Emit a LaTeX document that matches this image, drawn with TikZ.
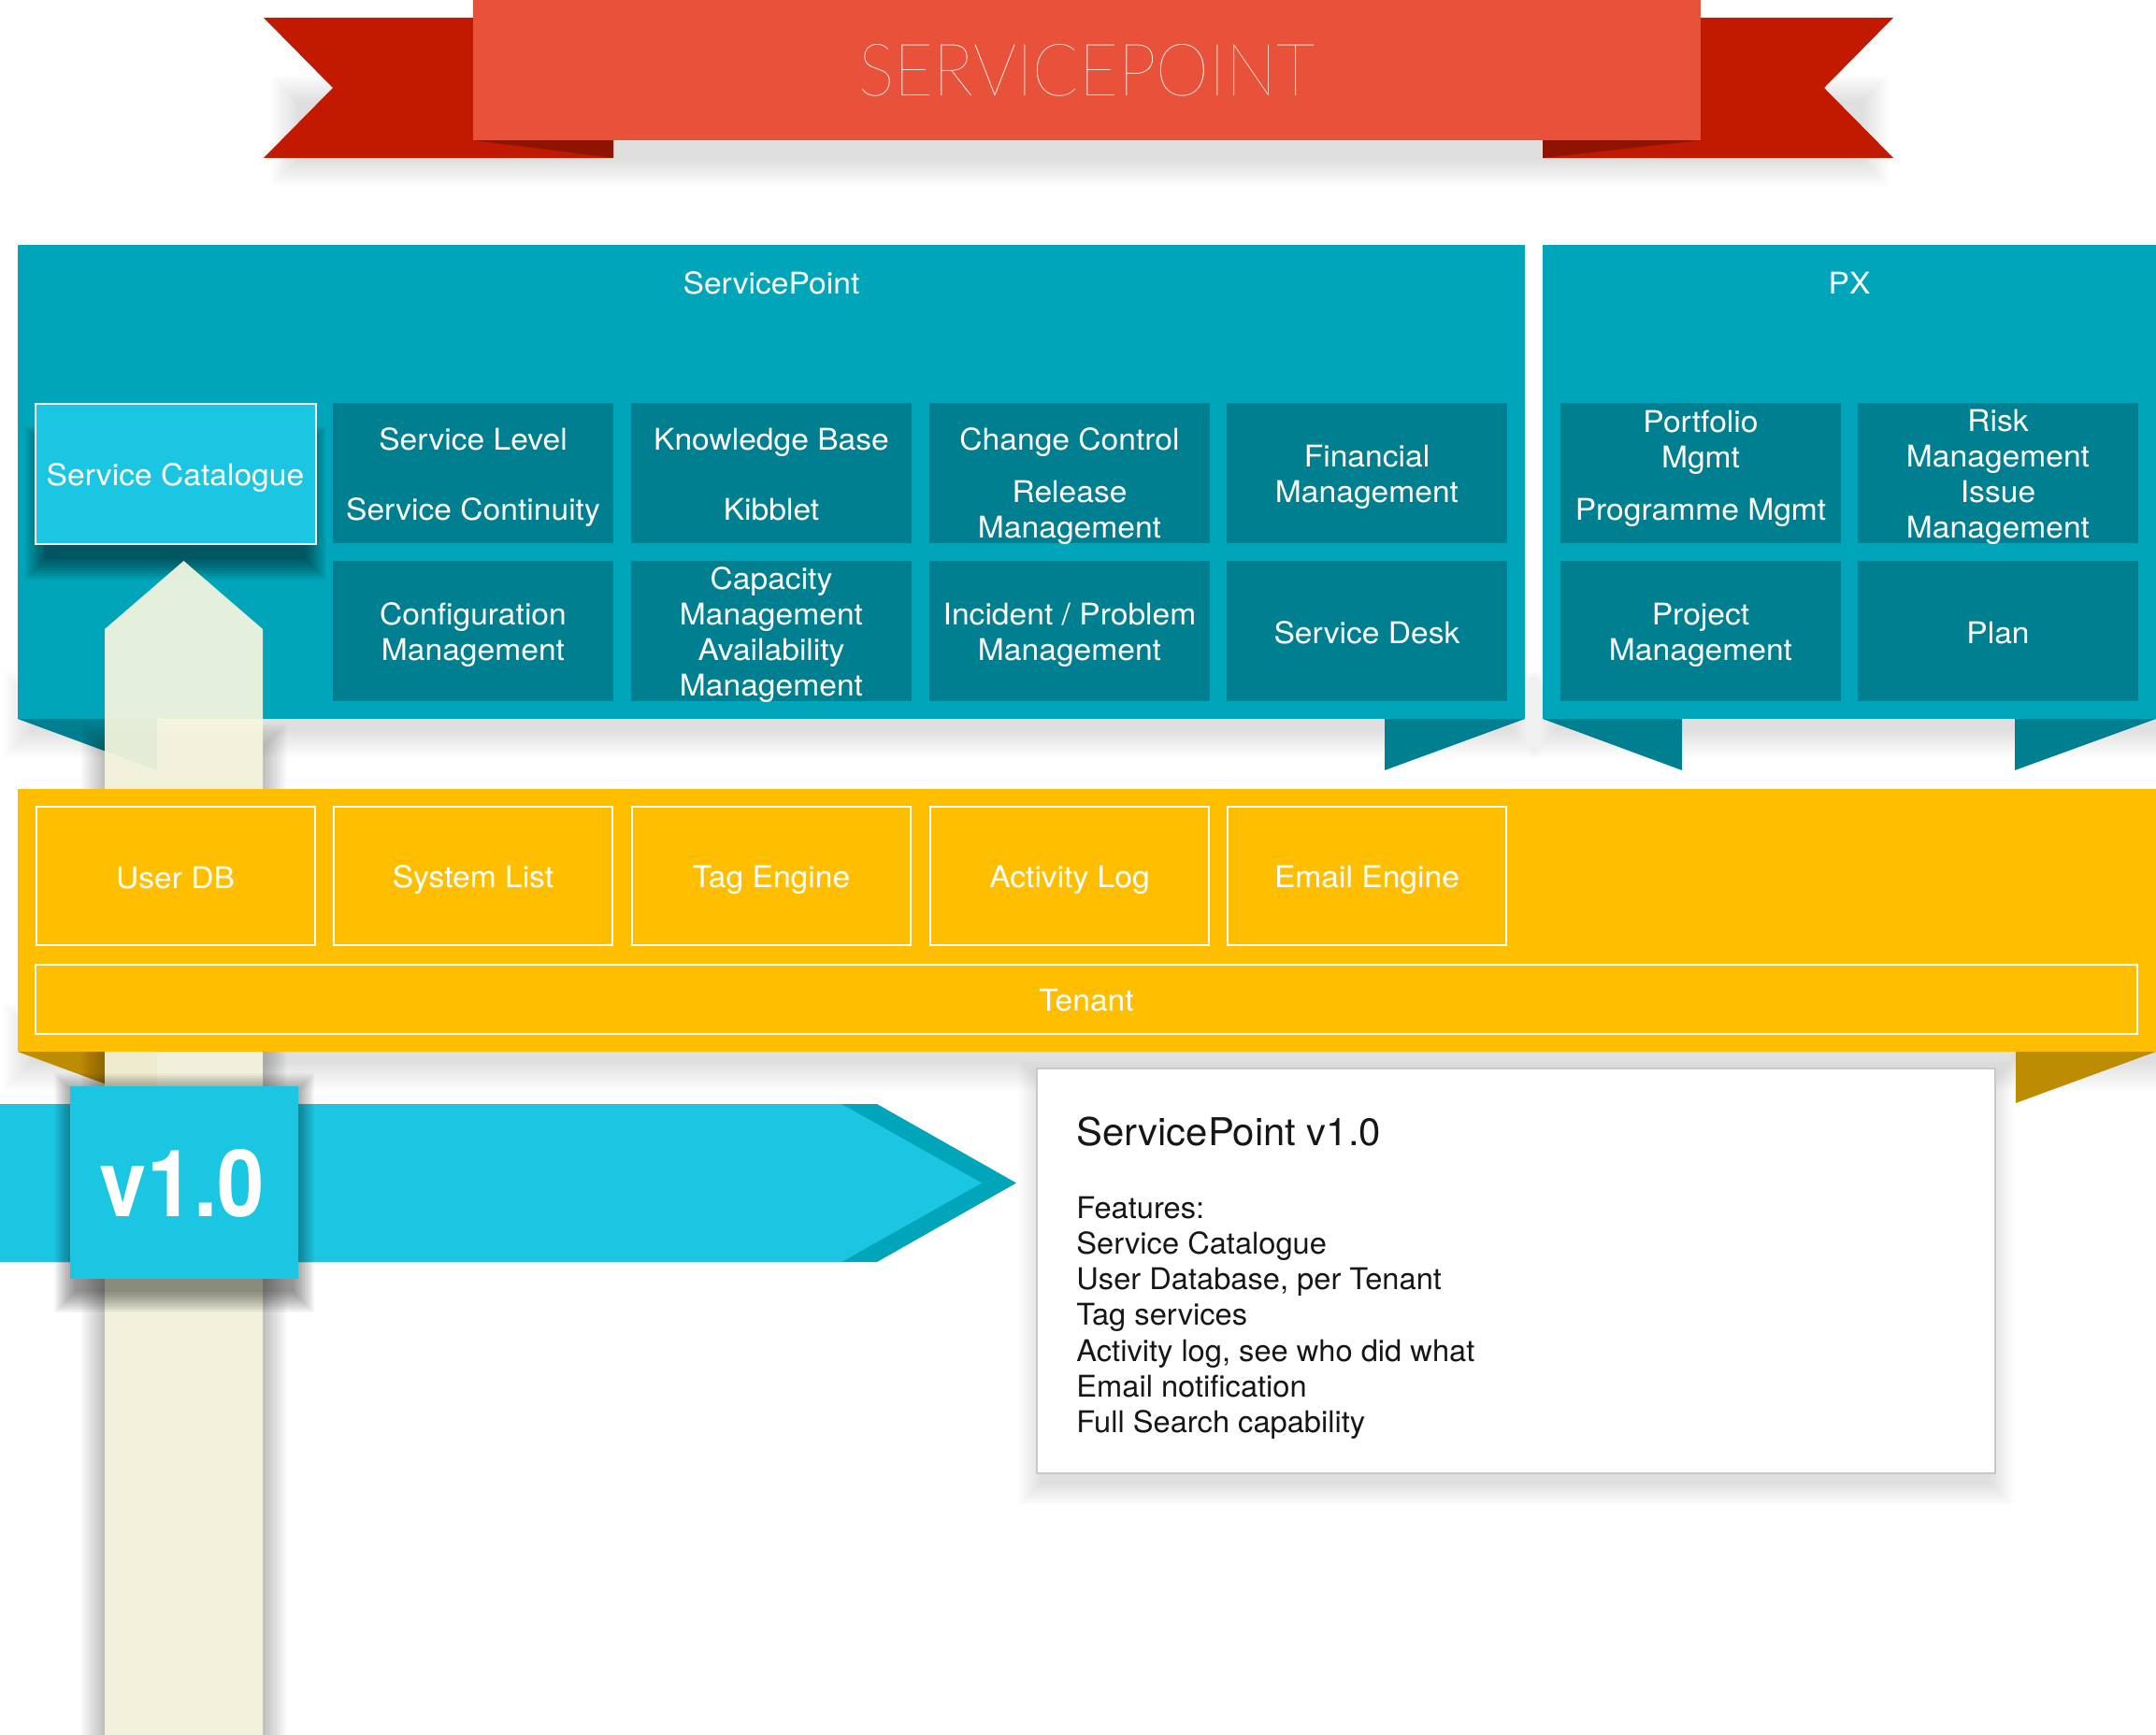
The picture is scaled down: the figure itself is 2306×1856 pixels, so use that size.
\documentclass[tikz,border=0pt]{standalone}
\usepackage{fontspec}
\usepackage{graphicx}
\setmainfont{TeX Gyre Heros}[FakeStretch=1.05]
\IfFontExistsTF{Lato Thin}{\newfontfamily\titlefont{Lato Thin}}{\newfontfamily\titlefont{TeX Gyre Heros}}
\newfontfamily\boxfont{TeX Gyre Heros}[FakeStretch=1.02]
\usetikzlibrary{calc}
\definecolor{bannerred}{HTML}{E8523A}
\definecolor{redtail}{HTML}{C11A01}
\definecolor{redfold}{HTML}{8E1300}
\definecolor{tealmain}{HTML}{00A5B9}
\definecolor{tealdark}{HTML}{007F91}
\definecolor{cyanbox}{HTML}{1BC6E3}
\definecolor{ybg}{HTML}{FFBF00}
\definecolor{gold}{HTML}{BD8C00}
\definecolor{cream}{HTML}{F6F6DF}
\definecolor{boxline}{HTML}{C8C8C8}
\definecolor{ink}{HTML}{161616}
\newcommand\softshadow[6]{%
  \foreach \k in {1,...,16}{%
    \fill[black,opacity=#6] ({#1-\k*#5/16},{#2-\k*#5/16}) rectangle ({#3+\k*#5/16},{#4+\k*#5/16});
  }}
\begin{document}
\begin{tikzpicture}[x=0.5pt,y=-0.5pt,
  panel/.style={fill=tealmain, inner sep=0pt, minimum height=253.5pt},
  tilebox/.style={fill=tealdark, minimum width=150pt, minimum height=75pt, inner sep=0pt},
  tiletext/.style={text=white, align=center, inner sep=0pt, yshift=-2.2pt, font=\fontsize{16}{19}\selectfont},
  nodesc/.style={yshift=1.2pt},
  ytile/.style={fill=ybg, draw=white, line width=1pt, text=white, minimum width=149pt, minimum height=74pt, inner sep=0pt, font=\fontsize{16}{19}\selectfont},
  ptitle/.style={text=white, anchor=base, inner sep=0pt, font=\fontsize{16}{19}\selectfont},
  featline/.style={text=ink, anchor=base west, inner sep=0pt, font=\boxfont\fontsize{16}{19}\selectfont}]
\useasboundingbox (0,0) rectangle (2306,1856);
\fill[white] (0,0) rectangle (2306,1856);

% ---------- title banner ----------
\softshadow{320}{110}{1990}{170}{30}{0.009}
\fill[redtail] (282,19) -- (656,19) -- (656,169) -- (282,169) -- (356,94) -- cycle;
\fill[redtail] (2025,19) -- (1650,19) -- (1650,169) -- (2025,169) -- (1951,94) -- cycle;
\fill[redfold] (506,150) -- (656,150) -- (656,169) -- cycle;
\fill[redfold] (1650,150) -- (1819,150) -- (1650,169) -- cycle;
\node[fill=bannerred, minimum width=656.5pt, minimum height=75pt, inner sep=0pt] (banner) at (1162.5,75) {};
\node[text=white, inner sep=0pt] (title) at (banner.center) {\resizebox{244pt}{27.5pt}{\titlefont SERVICEPOINT}};

% ---------- teal panels ----------
\softshadow{35}{750}{1615}{779}{32}{0.008}
\softshadow{1666}{750}{2306}{779}{32}{0.008}
\fill[tealdark] (19,769) -- (168,769) -- (168,824) -- cycle;
\fill[tealdark] (1481,769) -- (1631,769) -- (1481,824) -- cycle;
\fill[tealdark] (1650,769) -- (1799,769) -- (1799,824) -- cycle;
\fill[tealdark] (2155,769) -- (2306,769) -- (2155,824) -- cycle;
\node[panel, minimum width=806pt] (sp) at (825,515.5) {};
\node[panel, minimum width=328pt] (px) at (1978,515.5) {};
\node[ptitle] (sptitle) at (825,314.5) {ServicePoint};
\node[ptitle] (pxtitle) at (1978,314.5) {PX};

% tiles row 1
\node[tilebox] (sl) at (506,506) {};
\node[tiletext] (slt) at (sl) {Service Level\\[18.5pt]Service Continuity};
\node[tilebox] (kb) at (825,506) {};
\node[tiletext, nodesc] (kbt) at (kb) {Knowledge Base\\[18.5pt]Kibblet};
\node[tilebox] (cc) at (1144,506) {};
\node[tiletext, yshift=-5pt] (cct) at (cc) {Change Control\\[9pt]Release\\Management};
\node[tilebox] (fm) at (1462,506) {};
\node[tiletext] (fmt) at (fm) {Financial\\Management};
\node[tilebox] (pf) at (1819,506) {};
\node[tiletext, yshift=4.5pt] (pft) at (pf) {Portfolio\\Mgmt\\[9pt]Programme Mgmt};
\node[tilebox] (rk) at (2137,506) {};
\node[tiletext] (rkt) at (rk) {Risk\\Management\\Issue\\Management};
% tiles row 2
\node[tilebox] (cf) at (506,675) {};
\node[tiletext] (cft) at (cf) {Configuration\\Management};
\node[tilebox] (ca) at (825,675) {};
\node[tiletext] (cat) at (ca) {Capacity\\Management\\Availability\\Management};
\node[tilebox] (ip) at (1144,675) {};
\node[tiletext] (ipt) at (ip) {Incident / Problem\\Management};
\node[tilebox] (sd) at (1462,675) {};
\node[tiletext, nodesc] (sdt) at (sd) {Service Desk};
\node[tilebox] (pj) at (1819,675) {};
\node[tiletext] (pjt) at (pj) {Project\\Management};
\node[tilebox] (pl) at (2137,675) {};
\node[tiletext, nodesc] (plt) at (pl) {Plan};

% service catalogue
\softshadow{50}{480}{325}{596}{24}{0.035}
\node[fill=cyanbox, draw=white, line width=1pt, minimum width=150pt, minimum height=75pt, inner sep=0pt] (sc) at (187.5,506.5) {};
\node[tiletext] (sct) at (sc) {Service Catalogue};

% ---------- yellow band folds and column ----------
\softshadow{35}{1105}{2306}{1135}{32}{0.008}
\fill[gold] (19,1125) -- (168,1125) -- (168,1180) -- cycle;
\fill[gold] (2156,1125) -- (2306,1125) -- (2156,1180) -- cycle;
\softshadow{112}{800}{281}{1856}{26}{0.015}
\fill[cream, opacity=0.93] (112,1856) -- (112,673) -- (196.5,600) -- (281,673) -- (281,1856) -- cycle;

% ---------- yellow band ----------
\node[fill=ybg, minimum width=1143.5pt, minimum height=140.5pt, inner sep=0pt] (yb) at (1162.5,984.5) {};
\node[ytile] (udb) at (187.5,937) {};
\node[tiletext, nodesc] (udbt) at (udb) {User DB};
\node[ytile] (sysl) at (506,937) {};
\node[tiletext] (syslt) at (sysl) {System List};
\node[ytile] (tag) at (825,937) {};
\node[tiletext] (tagt) at (tag) {Tag Engine};
\node[ytile] (act) at (1144,937) {};
\node[tiletext] (actt) at (act) {Activity Log};
\node[ytile] (eml) at (1462,937) {};
\node[tiletext] (emlt) at (eml) {Email Engine};
\node[ytile, minimum width=1124pt, minimum height=37pt] (ten) at (1162,1068.5) {};
\node[tiletext, nodesc] (tent) at (ten) {Tenant};

% ---------- version ribbon ----------
\fill[tealmain] (0,1181) -- (938,1181) -- (1087,1265.5) -- (938,1350) -- (0,1350) -- cycle;
\fill[cyanbox] (0,1181) -- (900,1181) -- (1050,1265.5) -- (900,1350) -- (0,1350) -- cycle;
\softshadow{82}{1172}{312}{1380}{24}{0.03}
\node[fill=cyanbox, minimum width=122pt, minimum height=103pt, inner sep=0pt] (ver) at (197,1265) {};
\node[text=white, inner sep=0pt] (vertext) at (195,1266) {\resizebox{88pt}{36pt}{\bfseries v1.0}};

% ---------- feature box ----------
\softshadow{1115}{1160}{2128}{1585}{26}{0.007}
\node[fill=white, draw=boxline, line width=1pt, minimum width=512.5pt, minimum height=216.5pt, inner sep=0pt] (fbox) at (1621.5,1359.5) {};
\node[text=ink, anchor=base west, inner sep=0pt, font=\boxfont\fontsize{20.5}{24}\selectfont] (ftitle) at (1151,1225) {ServicePoint v1.0};
\foreach \t [count=\i] in {Features:, Service Catalogue, {User Database, per Tenant}, Tag services, {Activity log, see who did what}, Email notification, Full Search capability}{
  \node[featline] (feat\i) at (1151,{1303+(\i-1)*38.3}) {\t};
}
\end{tikzpicture}
\end{document}
